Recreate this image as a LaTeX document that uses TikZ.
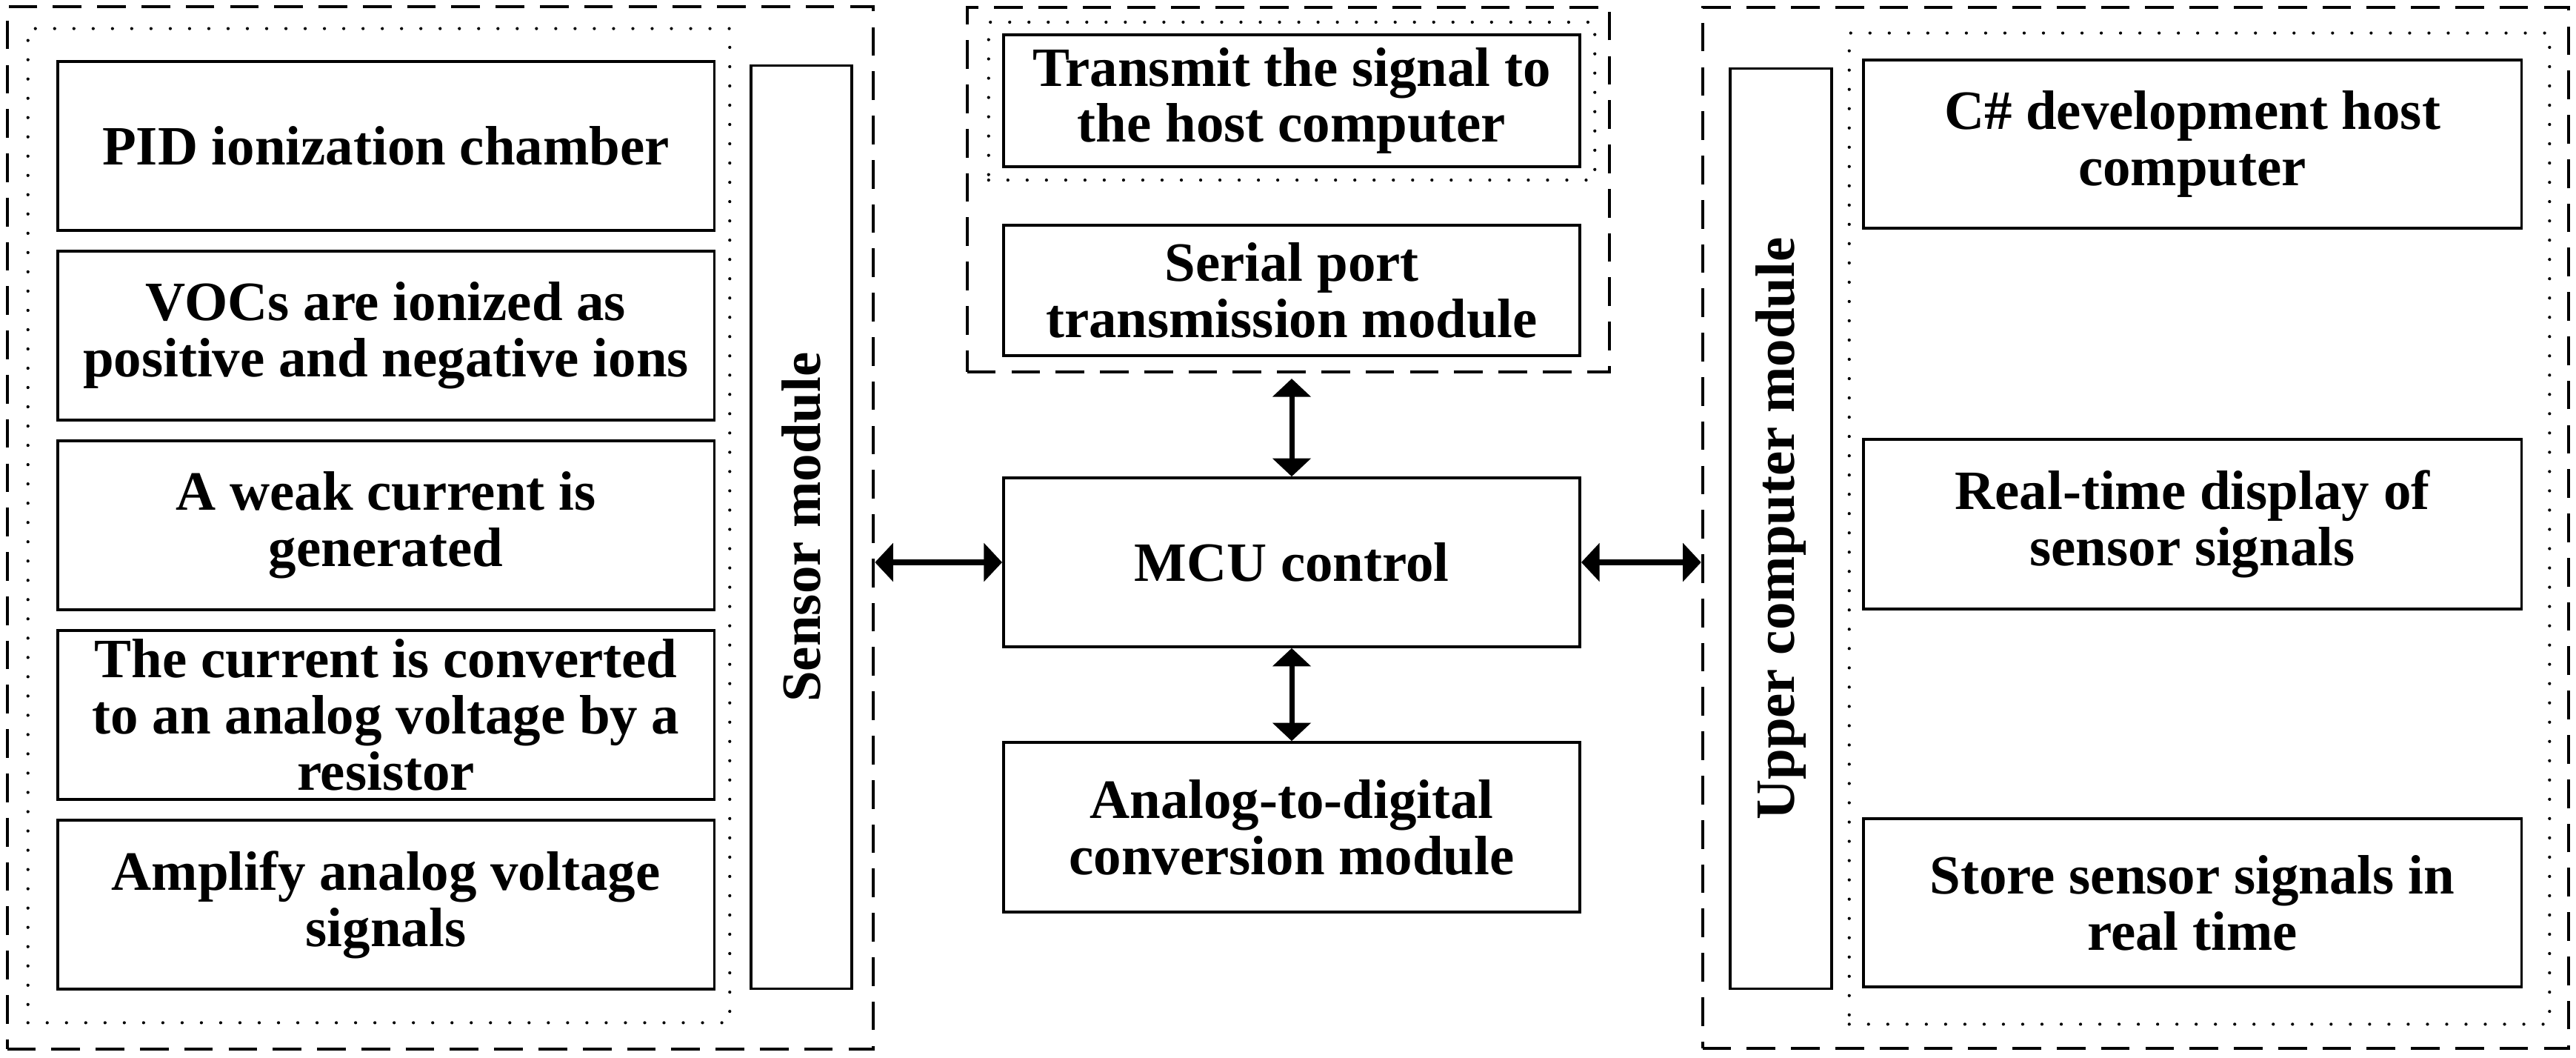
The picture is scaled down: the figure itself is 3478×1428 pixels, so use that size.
\documentclass[tikz,border=0pt]{standalone}
\usepackage{fontspec}
\setmainfont{Liberation Serif}
\usetikzlibrary{arrows.meta}
\tikzset{
  box/.style={draw, line width=1pt, inner sep=0pt, align=center,
    font=\fontsize{21.3}{21.6}\selectfont\bfseries},
  dashbox/.style={draw, line width=1.1pt, inner sep=0pt, dash pattern=on 11pt off 6pt},
  dotbox/.style={draw, line width=1.2pt, inner sep=0pt, line cap=round, dash pattern=on 0pt off 7.4pt},
  vlabel/.style={rotate=90, font=\fontsize{21.3}{21.6}\selectfont\bfseries},
  biarrow/.style={line width=2pt, {Triangle[length=7pt,width=14.5pt]}-{Triangle[length=7pt,width=14.5pt]}}
}
\begin{document}
\begin{tikzpicture}[x=0.01cm, y=-0.01cm]
\useasboundingbox (0,0) rectangle (3478,1428);
% containers
\node[dashbox, minimum width=11.69cm, minimum height=14.07cm] (leftdash) at (594.5,712.5) {};
\node[dotbox, minimum width=9.47cm, minimum height=13.41cm] (leftdot) at (511.5,709.5) {};
\node[dashbox, minimum width=8.67cm, minimum height=4.92cm] (middash) at (1739.5,256) {};
\node[dotbox, minimum width=8.18cm, minimum height=2.13cm] (middot) at (1744,136.5) {};
\node[dashbox, minimum width=11.69cm, minimum height=14.05cm] (rightdash) at (2883.5,712.5) {};
\node[dotbox, minimum width=9.45cm, minimum height=13.37cm] (rightdot) at (2969.5,713.5) {};
% left column
\node[box, minimum width=8.86cm, minimum height=2.28cm] (pid) at (521,197) {PID ionization chamber};
\node[box, minimum width=8.86cm, minimum height=2.28cm] (vocs) at (521,453) {VOCs are ionized as\\positive and negative ions};
\node[box, minimum width=8.86cm, minimum height=2.28cm] (weak) at (521,709) {A weak current is\\generated};
\node[box, minimum width=8.86cm, minimum height=2.28cm] (conv) at (521,965) {The current is converted\\to an analog voltage by a\\resistor};
\node[box, minimum width=8.86cm, minimum height=2.28cm] (amp) at (521,1221) {Amplify analog voltage\\signals};
\node[box, minimum width=1.36cm, minimum height=12.45cm] (sensor) at (1082,711.5) {};
\node[vlabel] (sensorlbl) at (sensor.center) {Sensor module};
% middle column
\node[box, minimum width=7.78cm, minimum height=1.78cm] (trans) at (1744,136) {Transmit the signal to\\the host computer};
\node[box, minimum width=7.78cm, minimum height=1.76cm] (serial) at (1744,392) {Serial port\\transmission module};
\node[box, minimum width=7.78cm, minimum height=2.28cm] (mcu) at (1744,759) {MCU control};
\node[box, minimum width=7.78cm, minimum height=2.29cm] (adc) at (1744,1116.5) {Analog-to-digital\\conversion module};
% right column
\node[box, minimum width=1.37cm, minimum height=12.41cm] (upper) at (2404.5,713.5) {};
\node[vlabel] (upperlbl) at (upper.center) {Upper computer module};
\node[box, minimum width=8.88cm, minimum height=2.27cm] (csharp) at (2960,194.5) {C\# development host\\computer};
\node[box, minimum width=8.88cm, minimum height=2.29cm] (disp) at (2960,707.5) {Real-time display of\\sensor signals};
\node[box, minimum width=8.88cm, minimum height=2.27cm] (store) at (2960,1218.5) {Store sensor signals in\\real time};
% connectors
\draw[biarrow] (leftdash.east |- mcu.west) -- (mcu.west);
\draw[biarrow] (mcu.east) -- (rightdash.west |- mcu.east);
\draw[biarrow] ([yshift=-2pt]middash.south -| mcu.north) -- (mcu.north);
\draw[biarrow] (mcu.south) -- (adc.north);
\end{tikzpicture}
\end{document}
